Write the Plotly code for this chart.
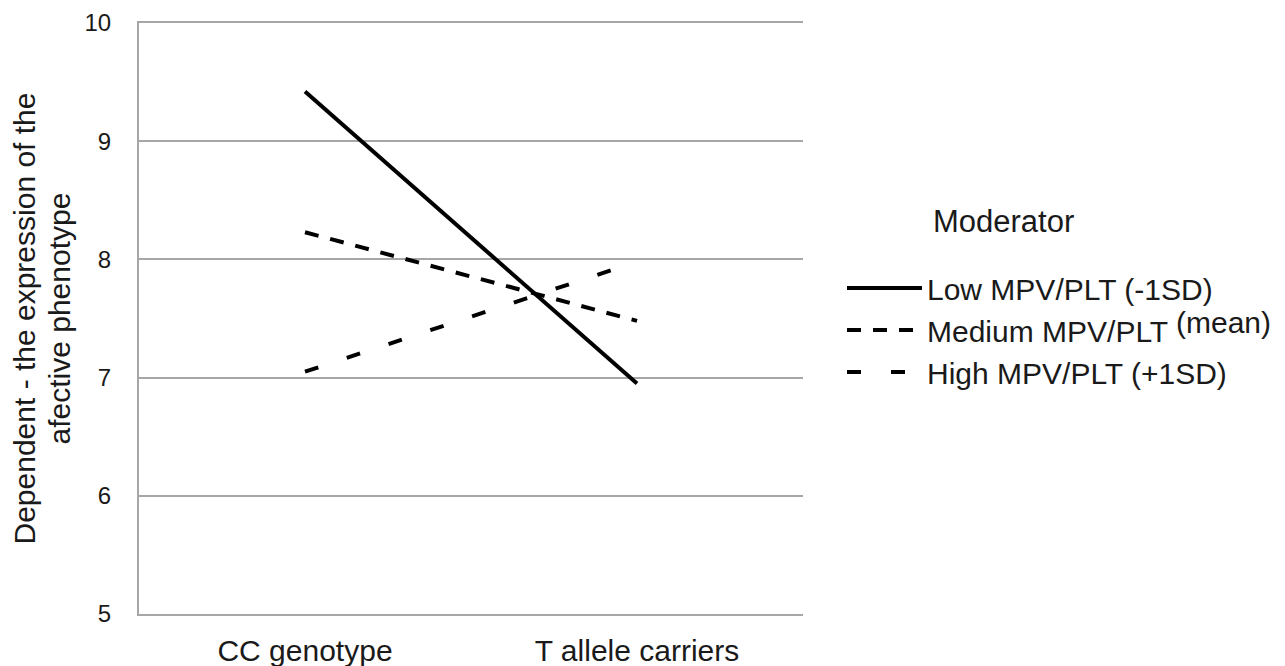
import plotly.graph_objects as go

categories = ["CC genotype", "T allele carriers"]
low_vals = [9.42, 6.95]
medium_vals = [8.23, 7.48]
high_vals = [7.05, 7.98]
series_names = [
    "Low MPV/PLT (-1SD)",
    "Medium MPV/PLT <span style='baseline-shift:9px'>(mean)</span>",
    "High MPV/PLT (+1SD)",
]
y_ticks = [5, 6, 7, 8, 9, 10]
y_title_lines = ["Dependent - the expression of the", "afective phenotype"]

FONT = "Liberation Sans, Arial, sans-serif"
TXT = "#1a1a1a"
W, H = 1285, 666
L, R, T, B = 139, 482, 23, 52
PW, PH = W - L - R, H - T - B

fig = go.Figure()
styles = [
    dict(color="black", width=4, dash="solid"),
    dict(color="black", width=4, dash="14px,12px"),
    dict(color="black", width=4, dash="14px,30px"),
]
for name, vals, st in zip(series_names, [low_vals, medium_vals, high_vals], styles):
    fig.add_trace(go.Scatter(x=categories, y=vals, mode="lines", name=name, line=st))

def px_x(px):
    return (px - L) / PW

def px_y(py):
    return (H - B - py) / PH

fig.update_layout(
    width=W, height=H,
    margin=dict(l=L, r=R, t=T, b=B, autoexpand=False),
    paper_bgcolor="white", plot_bgcolor="white",
    font=dict(family=FONT, size=24, color=TXT),
    showlegend=True,
    legend=dict(
        x=px_x(842), xanchor="left", xref="paper", y=0.4805, yanchor="middle",
        font=dict(size=30, family=FONT, color=TXT),
        itemwidth=75, tracegroupgap=0, bgcolor="rgba(0,0,0,0)",
        borderwidth=0,
    ),
    xaxis=dict(
        type="category", range=[-0.5, 1.5], showgrid=False, zeroline=False,
        showline=True, mirror=True, linecolor="#a6a6a6", linewidth=2,
        ticks="", tickfont=dict(size=30, family=FONT, color=TXT),
        ticklabelstandoff=9, automargin=False,
    ),
    yaxis=dict(
        range=[5, 10], tickvals=y_ticks, showgrid=True, gridcolor="#a6a6a6", gridwidth=2,
        zeroline=False, showline=True, linecolor="#a6a6a6", linewidth=2, ticks="",
        tickfont=dict(size=24, family=FONT, color=TXT), ticklabelstandoff=21,
        automargin=False,
    ),
    annotations=[
        dict(text=y_title_lines[0], textangle=-90,
             xref="paper", yref="paper", x=px_x(24), y=0.5, xanchor="center", yanchor="middle",
             showarrow=False, font=dict(size=30, family=FONT, color=TXT)),
        dict(text=y_title_lines[1], textangle=-90,
             xref="paper", yref="paper", x=px_x(59), y=0.5, xanchor="center", yanchor="middle",
             showarrow=False, font=dict(size=30, family=FONT, color=TXT)),
        dict(text="Moderator", xref="paper", yref="paper", x=px_x(931), y=px_y(222),
             xanchor="left", yanchor="middle", showarrow=False,
             font=dict(size=31, family=FONT, color=TXT)),
    ],
)
fig.write_html("out.html", config={"displayModeBar": False},
               post_script="document.body.style.margin='0';")
